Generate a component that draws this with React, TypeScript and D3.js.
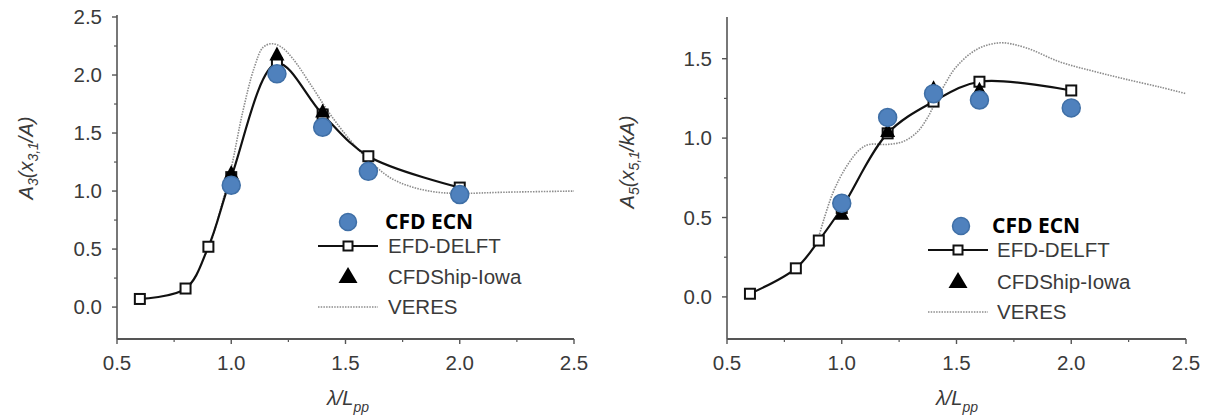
import React from "react";
import * as d3 from "d3";

type P = [number, number];

// ---------- data ----------
const X_TICKS = [0.5, 1.0, 1.5, 2.0, 2.5];
const X_MINOR = [0.75, 1.25, 1.75, 2.25];
const HEAVE_Y_TICKS = [0, 0.5, 1.0, 1.5, 2.0, 2.5];
const HEAVE_Y_MINOR = [0.25, 0.75, 1.25, 1.75, 2.25];
const PITCH_Y_TICKS = [0, 0.5, 1.0, 1.5];
const PITCH_Y_MINOR = [0.25, 0.75, 1.25];

// Heave (left)
const heaveEfd: P[] = [[0.6, 0.07], [0.8, 0.16], [0.9, 0.52], [1.0, 1.12], [1.2, 2.1], [1.4, 1.66], [1.6, 1.3], [2.0, 1.03]];
const heaveCfdShip: P[] = [[1.0, 1.15], [1.2, 2.17], [1.4, 1.68]];
const heaveEcn: P[] = [[1.0, 1.05], [1.2, 2.01], [1.4, 1.55], [1.6, 1.17], [2.0, 0.97]];
const heaveVeres: P[] = [[0.9, 0.48], [0.95, 0.82], [1.0, 1.2], [1.05, 1.68], [1.1, 2.06], [1.14, 2.24], [1.18, 2.27], [1.22, 2.24], [1.27, 2.14], [1.35, 1.91], [1.43, 1.67], [1.52, 1.44], [1.6, 1.27], [1.7, 1.11], [1.8, 1.03], [1.9, 0.99], [2.0, 0.98], [2.2, 0.99], [2.5, 1.0]];

// Pitch (right)
const pitchEfd: P[] = [[0.6, 0.02], [0.8, 0.18], [0.9, 0.355], [1.0, 0.56], [1.2, 1.03], [1.4, 1.23], [1.6, 1.355], [2.0, 1.3]];
const pitchCfdShip: P[] = [[1.0, 0.52], [1.2, 1.04], [1.4, 1.31], [1.6, 1.3]];
const pitchEcn: P[] = [[1.0, 0.59], [1.2, 1.13], [1.4, 1.28], [1.6, 1.24], [2.0, 1.19]];
const pitchVeres: P[] = [[0.9, 0.38], [0.96, 0.65], [1.02, 0.82], [1.08, 0.93], [1.12, 0.96], [1.2, 0.96], [1.27, 0.98], [1.33, 1.04], [1.37, 1.12], [1.4, 1.2], [1.45, 1.34], [1.5, 1.45], [1.59, 1.56], [1.69, 1.6], [1.8, 1.57], [1.95, 1.48], [2.1, 1.42], [2.24, 1.37], [2.39, 1.32], [2.5, 1.28]];

const LEGEND_LABELS = ["CFD ECN", "EFD-DELFT", "CFDShip-Iowa", "VERES"];

// ---------- styles ----------
const AXIS_COLOR = "#555";
const TEXT_COLOR = "#3a3a3a";
const ECN_FILL = "#4f81bd";
const ECN_STROKE = "#3f6fa6";
const FONT = "'Liberation Sans', Arial, sans-serif";

function tri(w: number, h: number) {
  return `M0,${-h * 0.62}L${w / 2},${h * 0.38}L${-w / 2},${h * 0.38}Z`;
}

interface LegendLayout {
  cx: number;
  cy: number[];
  lineX0: number;
  lineX1: number;
  ecnTextX: number;
  textX: number;
}

interface PanelProps {
  xRange: [number, number];
  yDomain: [number, number];
  yRange: [number, number];
  yTicks: number[];
  yMinor: number[];
  efd: P[];
  cfdShip: P[];
  ecn: P[];
  veres: P[];
  yTitleMain: string;
  yTitleSub1: string;
  yTitleMid: string;
  yTitleSub2: string;
  yTitleEnd: string;
  yTitleX: number;
  yTitleY: number;
  xTitleX: number;
  legend: LegendLayout;
}

function Panel(p: PanelProps) {
  const x = d3.scaleLinear().domain([0.5, 2.5]).range(p.xRange);
  const y = d3.scaleLinear().domain(p.yDomain).range(p.yRange);
  const curve = d3.curveCatmullRom.alpha(0.5);
  const line = d3
    .line<P>()
    .x((d) => x(d[0]))
    .y((d) => y(d[1]))
    .curve(curve);
  const x0 = p.xRange[0];
  const yb = p.yRange[0];
  const L = p.legend;
  return (
    <g>
      <line x1={x0} x2={x0} y1={yb} y2={p.yRange[1] - 2} stroke={AXIS_COLOR} strokeWidth={1.6} />
      <line x1={x0} x2={p.xRange[1]} y1={yb} y2={yb} stroke={AXIS_COLOR} strokeWidth={1.8} />
      {p.yTicks.map((t) => (
        <g key={"yt" + t}>
          <line x1={x0 - 5} x2={x0} y1={y(t)} y2={y(t)} stroke={AXIS_COLOR} strokeWidth={1.4} />
          <text x={x0 - 15} y={y(t)} dy="0.36em" textAnchor="end" fontSize={20.5} fill={TEXT_COLOR} fontFamily={FONT}>
            {t.toFixed(1)}
          </text>
        </g>
      ))}
      {p.yMinor.map((t) => (
        <line key={"ym" + t} x1={x0 - 3} x2={x0} y1={y(t)} y2={y(t)} stroke={AXIS_COLOR} strokeWidth={1.2} />
      ))}
      {X_TICKS.map((t) => (
        <g key={"xt" + t}>
          <line x1={x(t)} x2={x(t)} y1={yb} y2={yb + 5} stroke={AXIS_COLOR} strokeWidth={1.4} />
          <text x={x(t)} y={370} textAnchor="middle" fontSize={20.5} fill={TEXT_COLOR} fontFamily={FONT}>
            {t.toFixed(1)}
          </text>
        </g>
      ))}
      {X_MINOR.map((t) => (
        <line key={"xm" + t} x1={x(t)} x2={x(t)} y1={yb} y2={yb + 3} stroke={AXIS_COLOR} strokeWidth={1.2} />
      ))}
      <text x={p.xTitleX} y={405} textAnchor="middle" fontSize={20} fontStyle="italic" fill={TEXT_COLOR} fontFamily={FONT}>
        λ/L
        <tspan fontSize={14} dy={7}>pp</tspan>
      </text>
      <text
        transform={`translate(${p.yTitleX},${p.yTitleY}) rotate(-90)`}
        textAnchor="middle"
        fontSize={20}
        fontStyle="italic"
        fill={TEXT_COLOR}
        fontFamily={FONT}
      >
        {p.yTitleMain}
        <tspan fontSize={14} dy={5}>{p.yTitleSub1}</tspan>
        <tspan dy={-5}>{p.yTitleMid}</tspan>
        <tspan fontSize={14} dy={5}>{p.yTitleSub2}</tspan>
        <tspan dy={-5}>{p.yTitleEnd}</tspan>
      </text>

      <path d={line(p.veres) || ""} fill="none" stroke="#8c8c8c" strokeWidth={1.6} strokeDasharray="1.5,1.2" />
      <path d={line(p.efd) || ""} fill="none" stroke="#111" strokeWidth={2.2} />
      {p.efd.map((d, i) => (
        <rect key={"sq" + i} x={x(d[0]) - 5} y={y(d[1]) - 5} width={10} height={10} fill="#fff" stroke="#111" strokeWidth={2} />
      ))}
      {p.cfdShip.map((d, i) => (
        <path key={"tr" + i} transform={`translate(${x(d[0])},${y(d[1])})`} d={tri(15, 14)} fill="#000" />
      ))}
      {p.ecn.map((d, i) => (
        <circle key={"c" + i} cx={x(d[0])} cy={y(d[1])} r={9} fill={ECN_FILL} stroke={ECN_STROKE} strokeWidth={1.5} />
      ))}

      <circle cx={L.cx} cy={L.cy[0]} r={8.5} fill={ECN_FILL} stroke={ECN_STROKE} strokeWidth={1.5} />
      <text x={L.ecnTextX} y={L.cy[0]} dy="0.34em" fontSize={21} fontWeight="bold" fill="#000" fontFamily="'Open Sans', 'Noto Sans', sans-serif">
        {LEGEND_LABELS[0]}
      </text>
      <line x1={L.lineX0} x2={L.lineX1} y1={L.cy[1]} y2={L.cy[1]} stroke="#111" strokeWidth={2.2} />
      <rect x={(L.lineX0 + L.lineX1) / 2 - 4.5} y={L.cy[1] - 4.5} width={9} height={9} fill="#fff" stroke="#111" strokeWidth={2} />
      <text x={L.textX} y={L.cy[1]} dy="0.36em" fontSize={20.5} fill={TEXT_COLOR} fontFamily={FONT}>
        {LEGEND_LABELS[1]}
      </text>
      <path transform={`translate(${(L.lineX0 + L.lineX1) / 2},${L.cy[2]})`} d={tri(19, 16)} fill="#000" />
      <text x={L.textX} y={L.cy[2]} dy="0.36em" fontSize={20.5} fill={TEXT_COLOR} fontFamily={FONT}>
        {LEGEND_LABELS[2]}
      </text>
      <line x1={L.lineX0} x2={L.lineX1} y1={L.cy[3]} y2={L.cy[3]} stroke="#8c8c8c" strokeWidth={1.6} strokeDasharray="1.5,1.2" />
      <text x={L.textX} y={L.cy[3]} dy="0.36em" fontSize={20.5} fill={TEXT_COLOR} fontFamily={FONT}>
        {LEGEND_LABELS[3]}
      </text>
    </g>
  );
}

export default function App() {
  return (
    <svg
      width={1210}
      height={419}
      viewBox="0 0 1210 419"
      style={{ position: "absolute", left: 0, top: 0, background: "#fff" }}
    >
      <rect width={1210} height={419} fill="#fff" />
      <Panel
        xRange={[117, 574]}
        yDomain={[-0.275, 2.5]}
        yRange={[339, 17]}
        yTicks={HEAVE_Y_TICKS}
        yMinor={HEAVE_Y_MINOR}
        efd={heaveEfd}
        cfdShip={heaveCfdShip}
        ecn={heaveEcn}
        veres={heaveVeres}
        yTitleMain="A"
        yTitleSub1="3"
        yTitleMid="(x"
        yTitleSub2="3,1"
        yTitleEnd="/A)"
        yTitleX={33}
        yTitleY={158}
        xTitleX={348}
        legend={{ cx: 348, cy: [222, 246, 277, 307], lineX0: 318, lineX1: 378, ecnTextX: 385, textX: 388 }}
      />
      <Panel
        xRange={[727, 1186]}
        yDomain={[-0.265, 1.75]}
        yRange={[339, 19]}
        yTicks={PITCH_Y_TICKS}
        yMinor={PITCH_Y_MINOR}
        efd={pitchEfd}
        cfdShip={pitchCfdShip}
        ecn={pitchEcn}
        veres={pitchVeres}
        yTitleMain="A"
        yTitleSub1="5"
        yTitleMid="(x"
        yTitleSub2="5,1"
        yTitleEnd="/kA)"
        yTitleX={634}
        yTitleY={162}
        xTitleX={957}
        legend={{ cx: 961, cy: [226, 250, 282, 312], lineX0: 928, lineX1: 988, ecnTextX: 992, textX: 997 }}
      />
    </svg>
  );
}
